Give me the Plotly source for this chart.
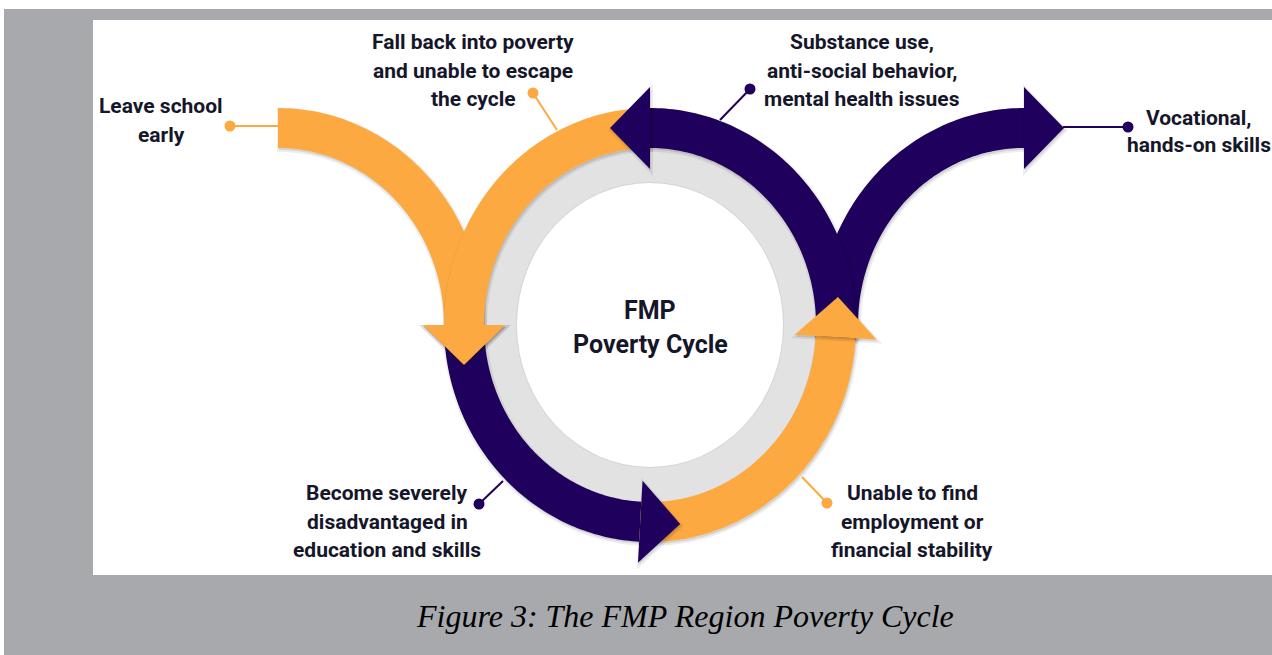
import numpy as np
import plotly.graph_objects as go

# ---------------- data ----------------
ORANGE = "#FDA942"
PURPLE = "#1F005C"
TEXT = "#16162a"

W, H = 1272, 655

# main ring (pixel geometry of the diagram)
ring_cx, ring_cy = 650, 325
# ring segments: colour, start angle, end angle (degrees, counter-clockwise)
ring_colors = [PURPLE, ORANGE, PURPLE, ORANGE]
ring_start = [-4, 90, 180, 267]
ring_end = [90, 180, 267, 356.5]

# side arcs: centre x, colour, start angle, end angle (clockwise travel)
side_cx = [278, 1024]
side_colors = [ORANGE, PURPLE]
side_start = [90, 184]
side_end = [0, 90]

center_lines = ["FMP", "Poverty Cycle"]
center_line_y = [310, 344]

callout_text = [
    ["Leave school", "early"],
    ["Fall back into poverty", "and unable to escape", "the cycle"],
    ["Substance use,", "anti-social behavior,", "mental health issues"],
    ["Vocational,", "hands-on skills"],
    ["Become severely", "disadvantaged in", "education and skills"],
    ["Unable to find", "employment or", "financial stability"],
]
callout_text_x = [161, 473, 862, 1199, 387, 912]
callout_text_y = [106, 42, 42, 118, 493, 493]
callout_line_gap = [29, 28.5, 28.5, 27, 28.5, 28.5]
callout_colors = [ORANGE, ORANGE, PURPLE, PURPLE, PURPLE, ORANGE]
dot_x = [230, 533, 750, 1128, 479, 827]
dot_y = [126, 93, 89, 127, 504, 503]
end_x = [278, 557, 720, 1063, 503, 802]
end_y = [126, 130, 120, 127, 481, 477]

caption = "Figure 3: The FMP Region Poverty Cycle"

# band geometry
RX_IN, RX_OUT = 166, 206
RY_IN, RY_OUT = 177, 217
RXM, RYM = (RX_IN + RX_OUT) / 2, (RY_IN + RY_OUT) / 2
HEAD_HW, HEAD_LEN = 41, 40
DOT_R = 5.5


def arc(cx, cy, rx, ry, a0, a1, n=90):
    a = np.radians(np.linspace(a0, a1, n))
    return list(zip(cx + rx * np.cos(a), cy - ry * np.sin(a)))


def path_from(pts, dx=0.0, dy=0.0):
    s = "M " + " L ".join(f"{x + dx:.2f},{y + dy:.2f}" for x, y in pts)
    return s + " Z"


def shaft(cx, cy, a0, a1):
    return arc(cx, cy, RX_OUT, RY_OUT, a0, a1) + arc(cx, cy, RX_IN, RY_IN, a1, a0)


def head(cx, cy, a, d):
    r = np.radians(a)
    mx, my = cx + RXM * np.cos(r), cy - RYM * np.sin(r)
    tx, ty = -RXM * np.sin(r) * d, -RYM * np.cos(r) * d
    L = np.hypot(tx, ty)
    tx, ty = tx / L, ty / L
    nx, ny = -ty, tx
    return [(mx + nx * HEAD_HW, my + ny * HEAD_HW),
            (mx + tx * HEAD_LEN, my + ty * HEAD_LEN),
            (mx - nx * HEAD_HW, my - ny * HEAD_HW)]


shapes = []


def add_poly(pts, color, shadow=True):
    if shadow:
        shapes.append(dict(type="path", path=path_from(pts, 1.0, 2.0), xref="x", yref="y",
                           fillcolor="rgba(0,0,0,0.10)", line=dict(color="rgba(0,0,0,0.07)", width=4)))
    shapes.append(dict(type="path", path=path_from(pts), xref="x", yref="y",
                       fillcolor=color, line=dict(width=0)))


# backgrounds
shapes.append(dict(type="rect", x0=0, x1=W, y0=0, y1=9, xref="x", yref="y",
                   fillcolor="white", line=dict(width=0)))
shapes.append(dict(type="rect", x0=0, x1=4, y0=0, y1=H, xref="x", yref="y",
                   fillcolor="white", line=dict(width=0)))
shapes.append(dict(type="rect", x0=93, x1=W, y0=20, y1=575, xref="x", yref="y",
                   fillcolor="white", line=dict(width=0)))

# grey ring and inner disc
shapes.append(dict(type="circle", x0=ring_cx - 170, x1=ring_cx + 170, y0=ring_cy - 181, y1=ring_cy + 181,
                   xref="x", yref="y", fillcolor="#E2E2E2", line=dict(width=0)))
shapes.append(dict(type="circle", x0=ring_cx - 134, x1=ring_cx + 134, y0=ring_cy - 143, y1=ring_cy + 143,
                   xref="x", yref="y", fillcolor="rgba(0,0,0,0.06)", line=dict(width=0)))
shapes.append(dict(type="circle", x0=ring_cx - 133, x1=ring_cx + 133, y0=ring_cy - 142, y1=ring_cy + 142,
                   xref="x", yref="y", fillcolor="white", line=dict(width=0)))

# side arcs (clockwise)
for cx, col, a0, a1 in zip(side_cx, side_colors, side_start, side_end):
    add_poly(shaft(cx, ring_cy, a0, a1), col)
    add_poly(head(cx, ring_cy, a1, -1), col)

# ring shafts
for col, a0, a1 in zip(ring_colors, ring_start, ring_end):
    add_poly(shaft(ring_cx, ring_cy, a0, a1), col)
# ring heads on top
for col, a1 in zip(ring_colors, ring_end):
    add_poly(head(ring_cx, ring_cy, a1, +1), col)

# callout lines and dots
for dx_, dy_, ex, ey, col in zip(dot_x, dot_y, end_x, end_y, callout_colors):
    shapes.append(dict(type="line", x0=dx_, y0=dy_, x1=ex, y1=ey, xref="x", yref="y",
                       line=dict(color=col, width=2)))
    shapes.append(dict(type="circle", x0=dx_ - DOT_R, x1=dx_ + DOT_R, y0=dy_ - DOT_R, y1=dy_ + DOT_R,
                       xref="x", yref="y", fillcolor=col, line=dict(width=0)))

fig = go.Figure()
fig.add_trace(go.Scatter(x=[0], y=[0], mode="markers", hoverinfo="skip",
                         marker=dict(size=1, opacity=0)))

annotations = []
for lines, tx, ty, gap in zip(callout_text, callout_text_x, callout_text_y, callout_line_gap):
    for i, line in enumerate(lines):
        annotations.append(dict(x=tx, y=ty + i * gap, text=line, showarrow=False, xref="x", yref="y",
                                xanchor="center", yanchor="middle",
                                font=dict(family="Roboto", size=21, color=TEXT, weight="bold")))
for line, ly in zip(center_lines, center_line_y):
    annotations.append(dict(x=ring_cx, y=ly, text=line, showarrow=False, xref="x", yref="y",
                            xanchor="center", yanchor="middle",
                            font=dict(family="Roboto", size=25, color=TEXT, weight="bold")))
annotations.append(dict(x=685, y=616, text=caption, showarrow=False, xref="x", yref="y",
                        xanchor="center", yanchor="middle",
                        font=dict(family="Liberation Serif", size=32, color="black", style="italic")))

fig.update_layout(
    width=W, height=H, autosize=False,
    margin=dict(l=0, r=0, t=0, b=0),
    paper_bgcolor="#A7A9AC", plot_bgcolor="#A7A9AC",
    xaxis=dict(range=[0, W], visible=False, fixedrange=True),
    yaxis=dict(range=[H, 0], visible=False, fixedrange=True),
    shapes=shapes, annotations=annotations, showlegend=False,
)

fig.write_html("out.html", config={"displayModeBar": False},
               post_script="document.body.style.margin='0';document.body.style.overflow='hidden';")
